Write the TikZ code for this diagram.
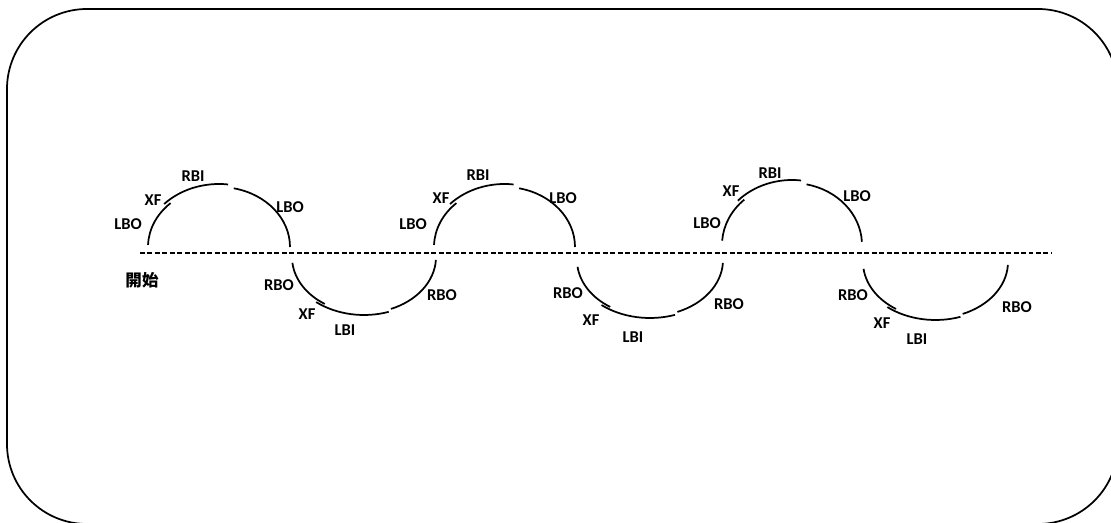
\documentclass[tikz,border=0pt]{standalone}
\usepackage{fontspec}
\setmainfont{Carlito}
\newfontfamily\cjk{Noto Sans CJK TC}
\newcommand\arcseg[6]{\draw[arcline] ([shift={(#3:#5 and #6)}]#1,#2) arc[start angle=#3,end angle=#4,x radius=#5,y radius=#6];}
\begin{document}
\begin{tikzpicture}[x=0.75pt,y=0.75pt,
  lbl/.style={font=\fontsize{12.4}{14}\selectfont\bfseries, inner sep=0pt},
  arcline/.style={line width=1.3pt},
  frame/.style={line width=1.3pt},
  baseline dash/.style={dash pattern=on 3.7pt off 1.9pt, line width=1.3pt}]
\useasboundingbox (0,0) rectangle (1111,-523);
\clip (0,0) rectangle (1111,-523);
\draw[frame, rounded corners=60pt] (7,-9) rectangle (1118,-524);
% dashed base line
\coordinate (ds) at (140,-253);
\coordinate (de) at (1052,-253);
\draw[baseline dash] (ds) -- (de);
% upper arcs
\arcseg{219}{-247}{178}{133}{71}{60}
\arcseg{219}{-247}{137}{83}{75}{63}
\arcseg{219}{-247}{78}{0}{71}{60}
\arcseg{504.5}{-247}{178}{133}{70.5}{60}
\arcseg{504.5}{-247}{137}{83}{74.5}{63}
\arcseg{504.5}{-247}{78}{0}{70.5}{60}
\arcseg{792}{-245}{176}{133}{70}{62}
\arcseg{792}{-245}{137}{83}{74}{65}
\arcseg{792}{-245}{78}{3}{70}{62}
% lower arcs
\arcseg{364}{-257}{186}{237}{72}{56}
\arcseg{364}{-257}{231}{289}{76}{58}
\arcseg{364}{-257}{292}{357}{72}{56}
\arcseg{650}{-260}{187}{237}{73}{56}
\arcseg{650}{-260}{231}{289}{77}{58}
\arcseg{650}{-260}{292}{357}{73}{56}
\arcseg{935.5}{-262}{187}{237}{72.5}{56}
\arcseg{935.5}{-262}{231}{289}{76.5}{58}
\arcseg{935.5}{-262}{292}{357}{72.5}{56}
% labels upper 1
\node[lbl] (u1rbi) at (193,-176) {RBI};
\node[lbl] (u1xf) at (153,-200) {XF};
\node[lbl] (u1lbo) at (128,-224) {LBO};
\node[lbl] (u1lbor) at (290,-207) {LBO};
\node[lbl] (start) at (142,-280) {\cjk\bfseries 開始};
% labels lower 1
\node[lbl] (l1rbo) at (279,-285) {RBO};
\node[lbl] (l1xf) at (307,-314) {XF};
\node[lbl] (l1lbi) at (345,-330) {LBI};
\node[lbl] (l1rbor) at (442,-295) {RBO};
% labels upper 2
\node[lbl] (u2rbi) at (478,-175) {RBI};
\node[lbl] (u2xf) at (441,-198) {XF};
\node[lbl] (u2lbo) at (413,-224) {LBO};
\node[lbl] (u2lbor) at (563,-198) {LBO};
% labels lower 2
\node[lbl] (l2rbo) at (568,-293) {RBO};
\node[lbl] (l2xf) at (591,-320) {XF};
\node[lbl] (l2lbi) at (633,-337) {LBI};
\node[lbl] (l2rbor) at (729,-304) {RBO};
% labels upper 3
\node[lbl] (u3rbi) at (770,-173) {RBI};
\node[lbl] (u3xf) at (731,-191) {XF};
\node[lbl] (u3lbo) at (707,-223) {LBO};
\node[lbl] (u3lbor) at (857,-196) {LBO};
% labels lower 3
\node[lbl] (l3rbo) at (853,-295) {RBO};
\node[lbl] (l3xf) at (882,-323) {XF};
\node[lbl] (l3lbi) at (917,-339) {LBI};
\node[lbl] (l3rbor) at (1017,-307) {RBO};
\end{tikzpicture}
\end{document}
